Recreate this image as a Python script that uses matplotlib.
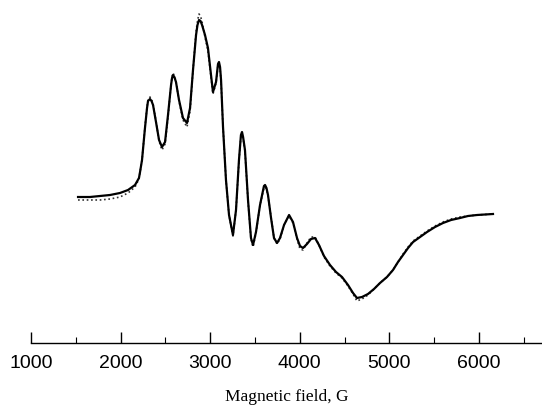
import matplotlib
matplotlib.use("Agg")
import matplotlib.pyplot as plt
from matplotlib.ticker import MultipleLocator

# Magnetic field (G)
field = [1525, 1658, 1770, 1882, 1993, 2083, 2161, 2205, 2217, 2239,
         2272, 2295, 2306, 2328, 2345, 2362, 2395, 2429, 2462, 2496,
         2529, 2563, 2574, 2585, 2600, 2618, 2652, 2696, 2741, 2775,
         2808, 2842, 2858, 2875, 2892, 2909, 2942, 2975, 3009, 3031,
         3065, 3087, 3098, 3110, 3121, 3143, 3176, 3210, 3254, 3288,
         3321, 3343, 3355, 3367, 3388, 3422, 3455, 3478, 3511, 3556,
         3600, 3612, 3628, 3645, 3679, 3712, 3746, 3779, 3824, 3880,
         3924, 3969, 4002, 4036, 4080, 4125, 4170, 4214, 4270, 4337,
         4404, 4471, 4538, 4594, 4638, 4694, 4761, 4828, 4895, 4973,
         5040, 5096, 5152, 5208, 5264, 5342, 5420, 5509, 5598, 5688,
         5788, 5877, 5978, 6067, 6156]

# experimental spectrum (arb. units)
experiment = [0, 0, 1, 2, 4, 7, 12, 19, 25, 37,
              69, 89, 96, 98, 96, 92, 75, 57, 50, 55,
              82, 112, 119, 122, 120, 115, 97, 79, 74, 89,
              127, 162, 172, 177, 176, 172, 162, 149, 122, 105,
              115, 133, 135, 130, 117, 70, 17, -18, -38, -13,
              37, 62, 65, 60, 47, -3, -41, -48, -35, -8,
              11, 12, 9, 2, -21, -41, -46, -41, -28, -18,
              -25, -41, -49, -51, -47, -42, -41, -48, -59, -68,
              -75, -80, -88, -96, -101, -100, -97, -92, -86, -80,
              -73, -65, -58, -51, -45, -40, -35, -30, -26, -23,
              -21, -19, -18, -17.5, -17]

# simulated spectrum (arb. units)
simulation = [-3, -3, -3, -2, 0, 4, 10, 18, 25, 37,
              70, 90, 97, 100, 98, 93, 76, 56, 47, 53,
              80, 112, 120, 124, 121, 116, 96, 77, 70, 86,
              127, 165, 176, 183, 181, 175, 160, 146, 120, 103,
              114, 132, 134, 128, 116, 70, 17, -18, -39, -13,
              36, 61, 64, 59, 46, -4, -42, -50, -36, -8,
              9, 10, 8, 1, -20, -41, -47, -42, -28, -19,
              -26, -42, -52, -53, -46, -40, -40, -48, -60, -69,
              -76, -81, -89, -97, -104, -102, -98, -92, -86, -80,
              -73, -65, -57, -50, -44, -39, -34, -29, -25, -22,
              -20, -19, -18, -17.5, -17]

fig = plt.figure(figsize=(5.42, 4.08), dpi=100)
ax = fig.add_axes([31 / 542, 65 / 408, 511 / 542, 343 / 408])

ax.plot(field, simulation, color="black", lw=1.2, ls=(0, (1, 1.6)), alpha=0.8)
ax.plot(field, experiment, color="black", lw=1.6)

ax.set_xlim(1000, 6703)
ax.set_ylim(-146, 197)

for side in ["top", "left", "right"]:
    ax.spines[side].set_visible(False)
ax.spines["bottom"].set_linewidth(1.0)
ax.set_yticks([])

ax.xaxis.set_major_locator(MultipleLocator(1000))
ax.xaxis.set_minor_locator(MultipleLocator(500))
ax.tick_params(axis="x", which="major", direction="in", length=8, width=1.0,
               pad=9, labelsize=14)
ax.tick_params(axis="x", which="minor", direction="in", length=4, width=0.8)
for lab in ax.get_xticklabels():
    lab.set_family("Liberation Sans")

ax.set_xlabel("Magnetic field, G", family="Liberation Serif", fontsize=12.5,
              labelpad=12)

fig.savefig("out.png", dpi=100)
